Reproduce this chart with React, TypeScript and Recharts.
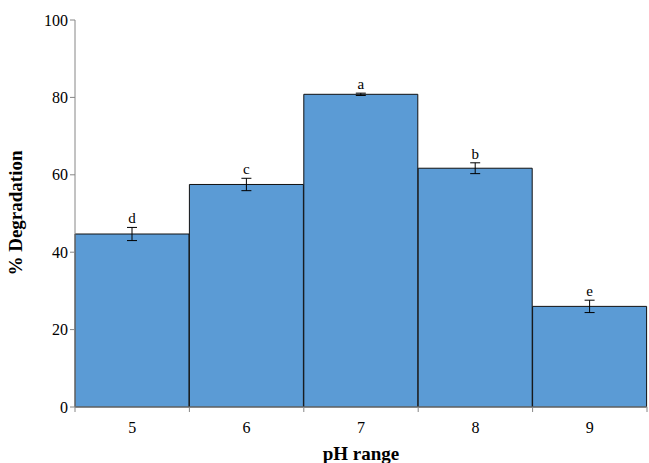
import React from "react";
import { BarChart, Bar, XAxis, YAxis, ErrorBar, LabelList, Label } from "recharts";

// values
const phLevels = ["5", "6", "7", "8", "9"];
const degradation = [44.7, 57.5, 80.8, 61.7, 26.0];
const stdErr = [1.7, 1.6, 0.3, 1.4, 1.6];
const letters = ["d", "c", "a", "b", "e"];
const yTicks = [0, 20, 40, 60, 80, 100];

const data = phLevels.map((ph, i) => ({
  ph,
  value: degradation[i],
  err: stdErr[i],
  letter: letters[i],
}));

const FONT = "'Liberation Serif', 'Times New Roman', serif";
const AXIS_GRAY = "#868686";

// Excel-style category axis: ticks sit on the band boundaries, labels in the middle
const BandTick = (props: any) => {
  const { x, y, payload, index } = props;
  const half = payload && payload.offset ? payload.offset : 57;
  return (
    <g>
      <line x1={x - half} y1={y - 8} x2={x - half} y2={y - 3} stroke={AXIS_GRAY} />
      {index === phLevels.length - 1 && (
        <line x1={x + half} y1={y - 8} x2={x + half} y2={y - 3} stroke={AXIS_GRAY} />
      )}
      <text x={x} y={y + 18} textAnchor="middle" style={{ fontFamily: FONT }} fontSize={16} fill="#000">
        {payload.value}
      </text>
    </g>
  );
};

const LetterLabel = (props: any) => {
  const { x, y, width, height, value, index } = props;
  const pxPerUnit = height / degradation[index];
  const top = y - stdErr[index] * pxPerUnit;
  return (
    <text x={x + width / 2} y={top - 4} textAnchor="middle" style={{ fontFamily: FONT }} fontSize={15} fill="#000">
      {value}
    </text>
  );
};

export default function App() {
  return (
    <div style={{ position: "absolute", left: 0, top: 0, background: "#fff" }}>
      <BarChart
        width={649}
        height={463}
        data={data}
        margin={{ top: 20, right: 2, bottom: 0, left: 0 }}
        barCategoryGap={0}
      >
        <XAxis
          dataKey="ph"
          height={56}
          stroke={AXIS_GRAY}
          tickLine={false}
          tick={<BandTick />}
          interval={0}
        >
          <Label
            content={() => (
              <text x={361} y={460} textAnchor="middle" style={{ fontFamily: FONT }} fontSize={19} fontWeight="bold" fill="#000">
                pH range
              </text>
            )}
          />
        </XAxis>
        <YAxis
          width={75}
          domain={[0, 100]}
          ticks={yTicks}
          stroke={AXIS_GRAY}
          tickSize={5}
          tick={{ style: { fontFamily: FONT }, fontSize: 16, fill: "#000" }}
        >
          <Label
            content={() => (
              <text
                x={22}
                y={213}
                transform="rotate(-90 22 213)"
                textAnchor="middle"
                style={{ fontFamily: FONT }}
                fontSize={19}
                fontWeight="bold"
                fill="#000"
              >
                % Degradation
              </text>
            )}
          />
        </YAxis>
        <Bar dataKey="value" fill="#5B9BD5" stroke="#111" strokeWidth={1} isAnimationActive={false}>
          <ErrorBar dataKey="err" width={5} stroke="#000" strokeWidth={1} />
          <LabelList dataKey="letter" content={<LetterLabel />} />
        </Bar>
      </BarChart>
    </div>
  );
}
